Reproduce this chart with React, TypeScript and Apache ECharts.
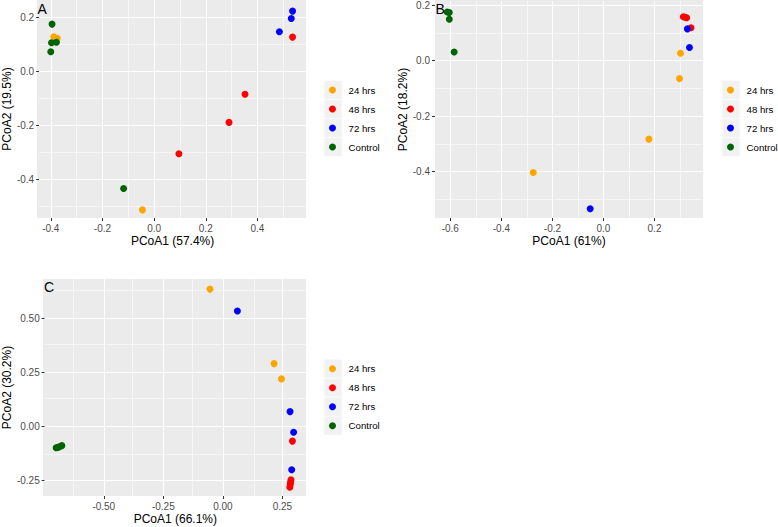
import React, { useEffect, useRef } from "react";
import * as echarts from "echarts";

const groups = ["24 hrs", "48 hrs", "72 hrs", "Control"];
const groupColors = ["#FFA500", "#FF0000", "#0000FF", "#006400"];

// Panel A
const panelA24 = [[-0.388, 0.127], [-0.375, 0.122], [-0.045, -0.512]];
const panelA48 = [[0.096, -0.305], [0.29, -0.189], [0.352, -0.085], [0.536, 0.126]];
const panelA72 = [[0.485, 0.146], [0.531, 0.195], [0.536, 0.222]];
const panelACtrl = [[-0.395, 0.174], [-0.397, 0.105], [-0.378, 0.107], [-0.4, 0.072], [-0.118, -0.433]];

// Panel B
const panelB24 = [[0.302, 0.026], [0.298, -0.065], [0.178, -0.283], [-0.275, -0.403]];
const panelB48 = [[0.313, 0.158], [0.32, 0.156], [0.326, 0.154], [0.343, 0.118]];
const panelB72 = [[0.337, 0.047], [0.329, 0.114], [-0.052, -0.534]];
const panelBCtrl = [[-0.612, 0.175], [-0.604, 0.173], [-0.604, 0.149], [-0.585, 0.031]];

// Panel C
const panelC24 = [[-0.054, 0.637], [0.215, 0.291], [0.246, 0.22]];
const panelC48 = [[0.292, -0.069], [0.286, -0.249], [0.284, -0.26], [0.283, -0.27], [0.281, -0.283]];
const panelC72 = [[0.061, 0.535], [0.282, 0.068], [0.297, -0.028], [0.289, -0.202]];
const panelCCtrl = [[-0.7, -0.1], [-0.693, -0.098], [-0.686, -0.095], [-0.676, -0.09]];

// Tick values (major breaks and minor grid lines)
const aXTicks = [-0.4, -0.2, 0, 0.2, 0.4];
const aXMinor = [-0.3, -0.1, 0.1, 0.3, 0.5];
const aYTicks = [-0.4, -0.2, 0, 0.2];
const aYMinor = [-0.5, -0.3, -0.1, 0.1];
const bXTicks = [-0.6, -0.4, -0.2, 0, 0.2];
const bXMinor = [-0.5, -0.3, -0.1, 0.1, 0.3];
const bYTicks = [-0.4, -0.2, 0, 0.2];
const bYMinor = [-0.5, -0.3, -0.1, 0.1];
const cXTicks = [-0.5, -0.25, 0, 0.25];
const cXMinor = [-0.625, -0.375, -0.125, 0.125];
const cYTicks = [-0.25, 0, 0.25, 0.5];
const cYMinor = [-0.125, 0.125, 0.375, 0.625];

const axisTitlesX = ["PCoA1 (57.4%)", "PCoA1 (61%)", "PCoA1 (66.1%)"];
const axisTitlesY = ["PCoA2 (19.5%)", "PCoA2 (18.2%)", "PCoA2 (30.2%)"];
const panelTags = ["A", "B", "C"];

const FONT = "'Liberation Sans', Arial, Helvetica, sans-serif";

// layout (pixels)
const grids = [
  { left: 37, top: 0, width: 269, height: 218 },
  { left: 435, top: 0, width: 268, height: 218 },
  { left: 43, top: 279, width: 263, height: 217 },
];

function majorAxis(gridIndex: number, min: number, max: number, ticks: number[], dec: number, name: string, nameGap: number) {
  return {
    type: "value",
    gridIndex,
    min,
    max,
    name,
    nameLocation: "middle",
    nameGap,
    nameTextStyle: { color: "#000", fontSize: 12, fontFamily: FONT },
    axisLine: { show: false, onZero: false },
    axisTick: { show: true, length: 3, customValues: ticks, lineStyle: { color: "#333333", width: 1 } },
    axisLabel: {
      customValues: ticks,
      formatter: (v: number) => v.toFixed(dec),
      color: "#4D4D4D",
      fontSize: 10,
      margin: 5,
      fontFamily: FONT,
    },
    splitLine: { show: false },
    splitArea: { show: false },
  };
}

function gridLineSeries(pi: number, xs: number[], ys: number[], width: number) {
  return {
    type: "scatter",
    name: "grid" + pi + "_" + width,
    xAxisIndex: pi,
    yAxisIndex: pi,
    data: [],
    silent: true,
    z: 1,
    markLine: {
      silent: true,
      symbol: "none",
      z: 1,
      animation: false,
      label: { show: false },
      emphasis: { disabled: true },
      lineStyle: { color: "#FFFFFF", width, type: "solid" },
      data: [...xs.map((v) => ({ xAxis: v })), ...ys.map((v) => ({ yAxis: v }))],
    },
  };
}

function legendFor(left: number, top: number) {
  return {
    orient: "vertical",
    left,
    top,
    itemWidth: 18,
    itemHeight: 7,
    itemGap: 0,
    icon: "circle",
    selectedMode: false,
    data: groups,
    textStyle: { fontSize: 9.7, color: "#000", lineHeight: 19, fontFamily: FONT, padding: [0, 0, 0, 2] },
  };
}

function keyRects(x: number, y: number) {
  return groups.map((g, i) => ({
    type: "rect",
    z: 0,
    shape: { x, y: y + i * 19, width: 18, height: 19 },
    style: { fill: "#F2F2F2", stroke: "#FFFFFF", lineWidth: 0.5 },
  }));
}

export default function App() {
  const ref = useRef<HTMLDivElement>(null);
  useEffect(() => {
    if (!ref.current) return;
    const chart = echarts.init(ref.current, null, { renderer: "svg" });
    const panels = [
      [panelA24, panelA48, panelA72, panelACtrl],
      [panelB24, panelB48, panelB72, panelBCtrl],
      [panelC24, panelC48, panelC72, panelCCtrl],
    ];
    const majors = [
      [aXTicks, aYTicks],
      [bXTicks, bYTicks],
      [cXTicks, cYTicks],
    ];
    const minors = [
      [aXMinor, aYMinor],
      [bXMinor, bYMinor],
      [cXMinor, cYMinor],
    ];
    const series: any[] = [];
    panels.forEach((p, pi) => {
      series.push(gridLineSeries(pi, minors[pi][0], minors[pi][1], 0.55));
      series.push(gridLineSeries(pi, majors[pi][0], majors[pi][1], 1.1));
    });
    panels.forEach((p, pi) => {
      p.forEach((data, gi) => {
        series.push({
          type: "scatter",
          name: groups[gi],
          xAxisIndex: pi,
          yAxisIndex: pi,
          data,
          symbol: "circle",
          symbolSize: 7,
          z: 3,
          itemStyle: { color: groupColors[gi], opacity: 1 },
          emphasis: { disabled: true },
        });
      });
    });
    const option: any = {
      animation: false,
      backgroundColor: "#FFFFFF",
      grid: grids.map((g) => ({ ...g, show: false })),
      xAxis: [
        majorAxis(0, -0.445, 0.588, aXTicks, 1, axisTitlesX[0], 17),
        majorAxis(1, -0.66, 0.39, bXTicks, 1, axisTitlesX[1], 17),
        majorAxis(2, -0.748, 0.349, cXTicks, 2, axisTitlesX[2], 16.5),
      ],
      yAxis: [
        majorAxis(0, -0.542, 0.263, aYTicks, 1, axisTitlesY[0], 19.3),
        majorAxis(1, -0.567, 0.214, bYTicks, 1, axisTitlesY[1], 25.5),
        majorAxis(2, -0.324, 0.684, cYTicks, 2, axisTitlesY[2], 29.5),
      ],
      legend: [legendFor(324, 75.5), legendFor(722, 75.5), legendFor(324, 354.2)],
      graphic: [
        ...grids.map((g) => ({
          type: "rect",
          z: -10,
          silent: true,
          shape: { x: g.left, y: g.top, width: g.width, height: g.height },
          style: { fill: "#EBEBEB" },
        })),
        ...keyRects(324, 80.5),
        ...keyRects(722, 80.5),
        ...keyRects(324, 359.2),
        { type: "text", z: 10, x: 37.5, y: 1.5, style: { text: panelTags[0], fontSize: 14, fill: "#000", fontFamily: FONT, verticalAlign: "top" } },
        { type: "text", z: 10, x: 435.5, y: 1.5, style: { text: panelTags[1], fontSize: 14, fill: "#000", fontFamily: FONT, verticalAlign: "top" } },
        { type: "text", z: 10, x: 44, y: 280, style: { text: panelTags[2], fontSize: 14, fill: "#000", fontFamily: FONT, verticalAlign: "top" } },
      ],
      series,
    };
    chart.setOption(option);
    return () => chart.dispose();
  }, []);
  return <div ref={ref} style={{ position: "fixed", left: 0, top: 0, width: 778, height: 527 }} />;
}
